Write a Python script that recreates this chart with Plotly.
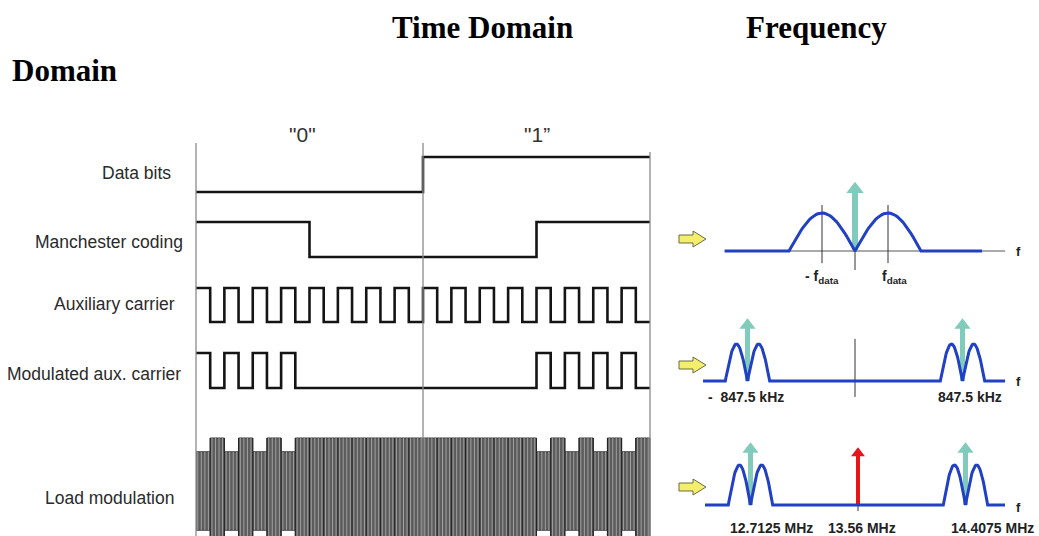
import numpy as np
import plotly.graph_objects as go

W, H = 1039, 536

# ---------------- data ----------------
bits = [0, 1]
bit_labels = ['"0"', '"1”']
bit_label_pos = [0.47, 1.5]      # position within the time axis (bits)
row_labels = ["Data bits", "Manchester coding", "Auxiliary carrier",
              "Modulated aux. carrier", "Load modulation"]
sub_periods_per_bit = 8          # 847.5 kHz subcarrier periods per data bit
carrier_cycles_per_half_sub = 8  # 13.56 MHz cycles per subcarrier half period
load_amp_levels = [1.0, 0.74]    # carrier amplitude: [aux low, aux high]

# frequency panel 1 (units of f_data)
p1_arch_edges = [[-2.0, 0.0], [0.0, 2.0]]
p1_ticks = [-1.0, 1.0]
p1_span = [-3.95, 3.85]
p1_axis = [-3.95, 4.55]
p1_arrow = 1.8
p1_labels = [(-1.0, "<b>- f<sub>data</sub></b>", 0), (1.0, "<b>f<sub>data</sub></b>", 6)]

# frequency panel 2 (kHz)
f_sub_khz = 847.5
p2_lobe_half_khz = 175.0
p2_span = [-1198, 1183]
p2_arrow = 1.68
p2_labels = [(-f_sub_khz, "<b>-  847.5 kHz</b>", -2), (f_sub_khz, "<b>847.5 kHz</b>", 7)]

# frequency panel 3 (MHz)
f_carrier = 13.56
p3_side = [12.7125, 14.4075]
p3_lobe_half = 0.175
p3_span = [12.354, 14.719]
p3_arrow = 1.55
p3_carrier_arrow = 1.43
p3_labels = [(12.7125, "<b>12.7125 MHz</b>", 21), (13.56, "<b>13.56 MHz</b>", 4),
             (14.4075, "<b>14.4075 MHz</b>", 27)]

# ---------------- derived waveforms ----------------
manch = []
for b in bits:
    manch += [1, 0] if b == 0 else [0, 1]
n_seg = len(bits) * sub_periods_per_bit * 2
aux = [1 if k % 2 == 0 else 0 for k in range(n_seg)]
seg_per_half_bit = n_seg // len(manch)
mod = [aux[k] * manch[k // seg_per_half_bit] for k in range(n_seg)]
load_amp = [load_amp_levels[1] if v else load_amp_levels[0] for v in mod]


def steps(values, dt):
    xs, ys = [], []
    for i, v in enumerate(values):
        xs += [i * dt, (i + 1) * dt]
        ys += [v, v]
    return xs, ys


fig = go.Figure()
BLK = "#141414"
LW = 2.6


def ydom(top_px, bot_px):
    return [1 - bot_px / H, 1 - top_px / H]


rows = [(157, 192), (222, 257), (288, 322), (353, 388)]  # (high px, low px)
yaxes = {}
for i, (hi, lo) in enumerate(rows):
    u = lo - hi
    yaxes[i] = dict(domain=ydom(hi - 0.2 * u, lo + 0.2 * u), range=[-0.2, 1.2])

series = [steps(bits, 1.0), steps(manch, 0.5), steps(aux, 2.0 / n_seg), steps(mod, 2.0 / n_seg)]
for i, (xs, ys) in enumerate(series):
    fig.add_trace(go.Scatter(x=xs, y=ys, mode="lines", xaxis="x",
                             yaxis="y" if i == 0 else f"y{i+1}",
                             line=dict(color=BLK, width=LW),
                             hoverinfo="skip", showlegend=False))

# load modulation (yaxis5)
dt = 2.0 / n_seg
top_x, top_y = steps(load_amp, dt)
poly_x = top_x + top_x[::-1]
poly_y = top_y + [-v for v in top_y[::-1]]
fig.add_trace(go.Scatter(x=poly_x, y=poly_y, mode="lines", fill="toself",
                         fillcolor="#5c5c5c", line=dict(color="#3a3a3a", width=1),
                         xaxis="x", yaxis="y5", hoverinfo="skip", showlegend=False))
sx, sy = [], []
n_cyc = n_seg * carrier_cycles_per_half_sub
for c in range(0, n_cyc, 2):
    t = (c + 1) * 2.0 / n_cyc
    a = load_amp[min(int(t / dt), n_seg - 1)]
    sx += [t, t, None]
    sy += [-a, a, None]
fig.add_trace(go.Scatter(x=sx, y=sy, mode="lines", line=dict(color="#a0a0a0", width=1),
                         xaxis="x", yaxis="y5", hoverinfo="skip", showlegend=False))
bx, by = [], []
for k in range(1, n_seg):
    t = k * dt
    a = max(load_amp[k - 1], load_amp[k])
    bx += [t, t, None]
    by += [-a, a, None]
fig.add_trace(go.Scatter(x=bx, y=by, mode="lines", line=dict(color="#222222", width=1),
                         xaxis="x", yaxis="y5", hoverinfo="skip", showlegend=False))

# ---------------- frequency panels ----------------
BLUE = "#2140c4"
TEAL = "#80cbbb"
RED = "#e8141c"
AX = "#555555"


def arch(x0, x1, n=40):
    xs = np.linspace(x0, x1, n)
    ys = np.sin(np.pi * (xs - x0) / (x1 - x0))
    return list(xs), list(ys)


def spectrum(span, arches):
    xs, ys = [span[0]], [0.0]
    for a0, a1 in arches:
        ax_, ay_ = arch(a0, a1)
        xs += ax_
        ys += ay_
    xs += [span[1]]
    ys += [0.0]
    return xs, ys


def spec_arrow(xv, top, xr, yr, color, width, head, px_per_unit):
    # shaft + triangular head (marker centred slightly below the tip)
    half = head * 0.5 / px_per_unit
    fig.add_trace(go.Scatter(x=[xv, xv], y=[0, top - half], mode="lines",
                             line=dict(color=color, width=width), xaxis=xr, yaxis=yr,
                             hoverinfo="skip", showlegend=False))
    fig.add_trace(go.Scatter(x=[xv], y=[top - half * 0.9], mode="markers",
                             marker=dict(symbol="triangle-up", size=head, color=color,
                                         line=dict(width=0)),
                             xaxis=xr, yaxis=yr, hoverinfo="skip", showlegend=False))


# panel 1
fig.add_trace(go.Scatter(x=p1_axis, y=[0, 0], mode="lines", line=dict(color=AX, width=1),
                         xaxis="x2", yaxis="y6", hoverinfo="skip", showlegend=False))
tx, ty = [], []
for t in p1_ticks:
    tx += [t, t, None]
    ty += [-0.32, 1.21, None]
tx += [0, 0, None]
ty += [-0.5, 0.3, None]
fig.add_trace(go.Scatter(x=tx, y=ty, mode="lines", line=dict(color="#333", width=1),
                         xaxis="x2", yaxis="y6", hoverinfo="skip", showlegend=False))
spec_arrow(0.0, p1_arrow, "x2", "y6", TEAL, 6, 15, 38)
xs, ys = spectrum(p1_span, p1_arch_edges)
fig.add_trace(go.Scatter(x=xs, y=ys, mode="lines", line=dict(color=BLUE, width=3),
                         xaxis="x2", yaxis="y6", hoverinfo="skip", showlegend=False))

# panel 2
fig.add_trace(go.Scatter(x=[0, 0], y=[-0.43, 1.14], mode="lines", line=dict(color="#333", width=1),
                         xaxis="x3", yaxis="y7", hoverinfo="skip", showlegend=False))
for c in [-f_sub_khz, f_sub_khz]:
    spec_arrow(c, p2_arrow, "x3", "y7", TEAL, 5, 14, 37)
arches2 = []
for c in [-f_sub_khz, f_sub_khz]:
    arches2 += [[c - p2_lobe_half_khz, c], [c, c + p2_lobe_half_khz]]
xs, ys = spectrum(p2_span, arches2)
fig.add_trace(go.Scatter(x=xs, y=ys, mode="lines", line=dict(color=BLUE, width=3),
                         xaxis="x3", yaxis="y7", hoverinfo="skip", showlegend=False))

# panel 3
fig.add_trace(go.Scatter(x=[f_carrier, f_carrier], y=[-0.15, 0], mode="lines",
                         line=dict(color="#333", width=1),
                         xaxis="x4", yaxis="y8", hoverinfo="skip", showlegend=False))
for c in p3_side:
    spec_arrow(c, p3_arrow, "x4", "y8", TEAL, 5, 14, 40)
spec_arrow(f_carrier, p3_carrier_arrow, "x4", "y8", RED, 4, 12, 40)
arches3 = []
for c in p3_side:
    arches3 += [[c - p3_lobe_half, c], [c, c + p3_lobe_half]]
xs, ys = spectrum(p3_span, arches3)
fig.add_trace(go.Scatter(x=xs, y=ys, mode="lines", line=dict(color=BLUE, width=3),
                         xaxis="x4", yaxis="y8", hoverinfo="skip", showlegend=False))

# ---------------- layout ----------------
def xdom(p0, p1):
    return [p0 / W, p1 / W]


hidden = dict(visible=False, showgrid=False, zeroline=False, fixedrange=True)
lay = dict(
    width=W, height=H, margin=dict(l=0, r=0, t=0, b=0),
    paper_bgcolor="white", plot_bgcolor="rgba(0,0,0,0)", showlegend=False,
    xaxis=dict(domain=xdom(190, 656), range=[-6 / 227, 2 + 6 / 227], anchor="y", **hidden),
    xaxis2=dict(domain=xdom(686, 1039), range=[(686 - 855) / 33, (1039 - 855) / 33], anchor="y6", **hidden),
    xaxis3=dict(domain=xdom(686, 1039), range=[(686 - 855) * 847.5 / 107.5, (1039 - 855) * 847.5 / 107.5], anchor="y7", **hidden),
    xaxis4=dict(domain=xdom(686, 1039), range=[f_carrier + (686 - 858) * 0.8475 / 107.5, f_carrier + (1039 - 858) * 0.8475 / 107.5], anchor="y8", **hidden),
    xaxis5=dict(domain=[0, 1], range=[0, W], anchor="y9", **hidden),
    yaxis=dict(anchor="x", **yaxes[0], **hidden),
    yaxis2=dict(anchor="x", **yaxes[1], **hidden),
    yaxis3=dict(anchor="x", **yaxes[2], **hidden),
    yaxis4=dict(anchor="x", **yaxes[3], **hidden),
    yaxis5=dict(anchor="x", domain=ydom(425, 536), range=[-(536 - 491) / 53, (491 - 425) / 53], **hidden),
    yaxis6=dict(anchor="x2", domain=ydom(170, 285), range=[-(285 - 251) / 38, (251 - 170) / 38], **hidden),
    yaxis7=dict(anchor="x3", domain=ydom(305, 405), range=[-(405 - 381) / 37, (381 - 305) / 37], **hidden),
    yaxis8=dict(anchor="x4", domain=ydom(430, 520), range=[-(520 - 505) / 40, (505 - 430) / 40], **hidden),
    yaxis9=dict(anchor="x5", domain=[0, 1], range=[H, 0], **hidden),
)
fig.update_layout(**lay)

# vertical bit boundary lines
for i in range(len(bits) + 1):
    top = 143 if i < len(bits) else 152
    fig.add_shape(type="line", xref="x", yref="paper", x0=i, x1=i, y0=0, y1=1 - top / H,
                  line=dict(color="#8a8a8a", width=1.3), layer="above")

# yellow arrows (decorative pointers)
for cy in [239, 365, 487]:
    x0 = 679
    path = (f"M {x0},{cy-4} L {x0+14},{cy-4} L {x0+14},{cy-8} L {x0+27},{cy} "
            f"L {x0+14},{cy+8} L {x0+14},{cy+4} L {x0},{cy+4} Z")
    fig.add_shape(type="path", path=path, xref="x5", yref="y9",
                  fillcolor="#f3ee6c", line=dict(color="#6b6b40", width=1))

ann = []
serif = "Liberation Serif"
sans = "Liberation Sans"


def txt(text, x, y, xref="paper", yref="paper", xanchor="center", size=14, family=sans,
        color="#222", xshift=0):
    return dict(text=text, x=x, y=y, xref=xref, yref=yref, xanchor=xanchor, yanchor="middle",
                xshift=xshift, showarrow=False, font=dict(family=family, size=size, color=color))


# titles
ann.append(txt("<b>Time Domain</b>", 482 / W, 1 - 27 / H, size=31, family=serif, color="black"))
ann.append(txt("<b>Frequency</b>", 816 / W, 1 - 27 / H, size=31, family=serif, color="black"))
ann.append(txt("<b>Domain</b>", 10 / W, 1 - 70 / H, xanchor="left", size=31, family=serif, color="black"))
# bit labels
for lab, pos in zip(bit_labels, bit_label_pos):
    ann.append(txt(lab, pos, 1 - 134 / H, xref="x", size=21, color="#333"))
# row labels
row_label_pos = [(173, 173), (185, 242), (177, 304), (183, 374), (176, 498)]
for lab, (rx, ry) in zip(row_labels, row_label_pos):
    ann.append(txt(lab, rx / W, 1 - ry / H, xanchor="right", size=17.5, color="#2a2a2a"))
# f axis labels
for fy in [251, 381, 507]:
    ann.append(txt("<b>f</b>", 1018 / W, 1 - fy / H, size=13))
# frequency labels
for xv, t, sh in p1_labels:
    ann.append(txt(t, xv, 1 - 277 / H, xref="x2", xshift=sh, size=14))
for xv, t, sh in p2_labels:
    ann.append(txt(t, xv, 1 - 397 / H, xref="x3", xshift=sh, size=14))
for xv, t, sh in p3_labels:
    ann.append(txt(t, xv, 1 - 528 / H, xref="x4", xshift=sh, size=14))

fig.update_layout(annotations=ann)
fig.write_html("out.html", config={"displayModeBar": False, "staticPlot": True},
               post_script="document.body.style.margin='0px';")
